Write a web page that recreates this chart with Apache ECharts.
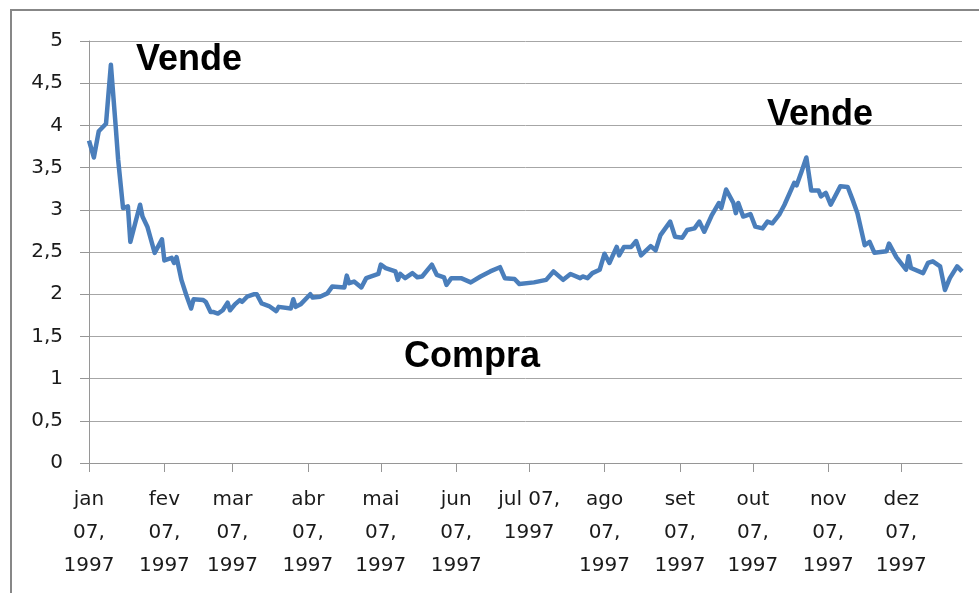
<!DOCTYPE html>
<html>
<head>
<meta charset="utf-8">
<script src="https://cdn.jsdelivr.net/npm/echarts@6/dist/echarts.min.js"></script>
<style>
    html, body { margin:0; padding:0; background:#fff; }
    #chart { width:979px; height:593px; }
</style>
</head>
<body>
<div id="chart"></div>
<script>
    // days counted from 7 jan 1997
    var dayOffsets = [0, 2, 4, 7, 9, 11, 12, 14, 16, 17, 19, 21, 22, 24, 27, 30, 31, 34, 35, 36,
        38, 40, 42, 43, 47, 48, 50, 51, 53, 55, 57, 58, 60, 62, 63, 65, 68, 69, 71, 74,
        77, 78, 83, 84, 85, 87, 91, 92, 95, 98, 100, 105, 106, 107, 109, 112, 114, 119, 120, 122,
        126, 127, 128, 130, 133, 135, 137, 141, 143, 146, 147, 149, 153, 157, 161, 165, 169, 171, 175, 177,
        183, 188, 191, 195, 198, 202, 203, 205, 207, 210, 212, 214, 217, 218, 220, 223, 225, 227, 231, 233,
        235, 239, 241, 244, 246, 249, 251, 253, 256, 259, 260, 262, 265, 266, 267, 269, 272, 274, 277, 279,
        281, 284, 286, 290, 291, 293, 295, 297, 300, 301, 303, 305, 309, 312, 314, 316, 319, 321, 323, 328,
        329, 332, 336, 337, 338, 343, 345, 347, 350, 352, 354, 357, 359];
    var prices = [3.82, 3.62, 3.93, 4.02, 4.72, 3.98, 3.59, 3.02, 3.04, 2.62, 2.84, 3.06, 2.92, 2.80, 2.49, 2.65, 2.40, 2.43, 2.37, 2.44,
        2.17, 1.99, 1.83, 1.94, 1.93, 1.91, 1.79, 1.79, 1.77, 1.81, 1.90, 1.81, 1.88, 1.93, 1.91, 1.97, 2.00, 2.00, 1.89, 1.86,
        1.80, 1.85, 1.83, 1.94, 1.85, 1.88, 2.00, 1.96, 1.97, 2.01, 2.09, 2.08, 2.22, 2.13, 2.15, 2.08, 2.19, 2.24, 2.35, 2.31,
        2.27, 2.17, 2.24, 2.19, 2.25, 2.20, 2.21, 2.35, 2.23, 2.20, 2.11, 2.19, 2.19, 2.14, 2.21, 2.27, 2.32, 2.19, 2.18, 2.12,
        2.14, 2.17, 2.27, 2.17, 2.24, 2.19, 2.21, 2.19, 2.25, 2.29, 2.48, 2.37, 2.56, 2.46, 2.56, 2.56, 2.63, 2.46, 2.57, 2.52,
        2.70, 2.86, 2.68, 2.67, 2.76, 2.78, 2.86, 2.74, 2.93, 3.08, 3.02, 3.24, 3.08, 2.96, 3.08, 2.92, 2.95, 2.80, 2.78, 2.86,
        2.84, 2.95, 3.06, 3.32, 3.29, 3.45, 3.62, 3.23, 3.23, 3.16, 3.20, 3.06, 3.28, 3.27, 3.12, 2.96, 2.58, 2.62, 2.49, 2.51,
        2.60, 2.44, 2.29, 2.45, 2.31, 2.25, 2.37, 2.39, 2.33, 2.05, 2.19, 2.33, 2.27];

    var tickDays = [0, 31, 59, 90, 120, 151, 181, 212, 243, 273, 304, 334];
    var tickLabels = ['jan\n07,\n1997', 'fev\n07,\n1997', 'mar\n07,\n1997', 'abr\n07,\n1997',
        'mai\n07,\n1997', 'jun\n07,\n1997', 'jul 07,\n1997', 'ago\n07,\n1997',
        'set\n07,\n1997', 'out\n07,\n1997', 'nov\n07,\n1997', 'dez\n07,\n1997'];

    var seriesData = [];
    for (var i = 0; i < dayOffsets.length; i++) {
        seriesData.push([dayOffsets[i], prices[i]]);
    }

    var myChart = echarts.init(document.getElementById('chart'));
    var option = {
        backgroundColor: '#fff',
        animation: false,
        textStyle: {fontFamily: 'DejaVu Sans'},
        grid: {left: 89, right: 17, top: 41, bottom: 130, outerBoundsMode: 'none'},
        xAxis: {
            type: 'value',
            min: 0,
            max: 359,
            splitLine: {show: false},
            axisLine: {show: true, lineStyle: {color: '#969696', width: 1}},
            axisTick: {show: true, length: 9, customValues: tickDays, lineStyle: {color: '#969696'}},
            axisLabel: {
                customValues: tickDays,
                margin: 20,
                color: '#1a1a1a',
                fontSize: 20,
                lineHeight: 33,
                fontFamily: 'DejaVu Sans',
                formatter: function (v) {
                    var idx = tickDays.indexOf(v);
                    return idx >= 0 ? tickLabels[idx] : '';
                }
            }
        },
        yAxis: {
            type: 'value',
            min: 0,
            max: 5,
            interval: 0.5,
            axisLine: {show: true, lineStyle: {color: '#969696', width: 1}},
            axisTick: {show: true, length: 9, lineStyle: {color: '#969696'}},
            splitLine: {show: true, lineStyle: {color: '#a6a6a6', width: 1}},
            axisLabel: {
                margin: 26,
                color: '#1a1a1a',
                fontSize: 20,
                fontFamily: 'DejaVu Sans',
                formatter: function (v) { return String(v).replace('.', ','); }
            }
        },
        series: [{
            type: 'line',
            data: seriesData,
            showSymbol: false,
            symbol: 'none',
            lineStyle: {color: '#4a7ebb', width: 4.5, join: 'round'},
            itemStyle: {color: '#4a7ebb'}
        }],
        graphic: [
            {type: 'rect', shape: {x: 11, y: 10, width: 1000, height: 1000}, style: {fill: 'none', stroke: '#878787', lineWidth: 2}},
            {type: 'text', x: 136, y: 78, style: {text: 'Vende', font: 'bold 36px "Liberation Sans"', fill: '#000', textVerticalAlign: 'bottom'}},
            {type: 'text', x: 767, y: 133, style: {text: 'Vende', font: 'bold 36px "Liberation Sans"', fill: '#000', textVerticalAlign: 'bottom'}},
            {type: 'text', x: 404, y: 375, style: {text: 'Compra', font: 'bold 36px "Liberation Sans"', fill: '#000', textVerticalAlign: 'bottom'}}
        ]
    };
    myChart.setOption(option);
</script>
</body>
</html>
